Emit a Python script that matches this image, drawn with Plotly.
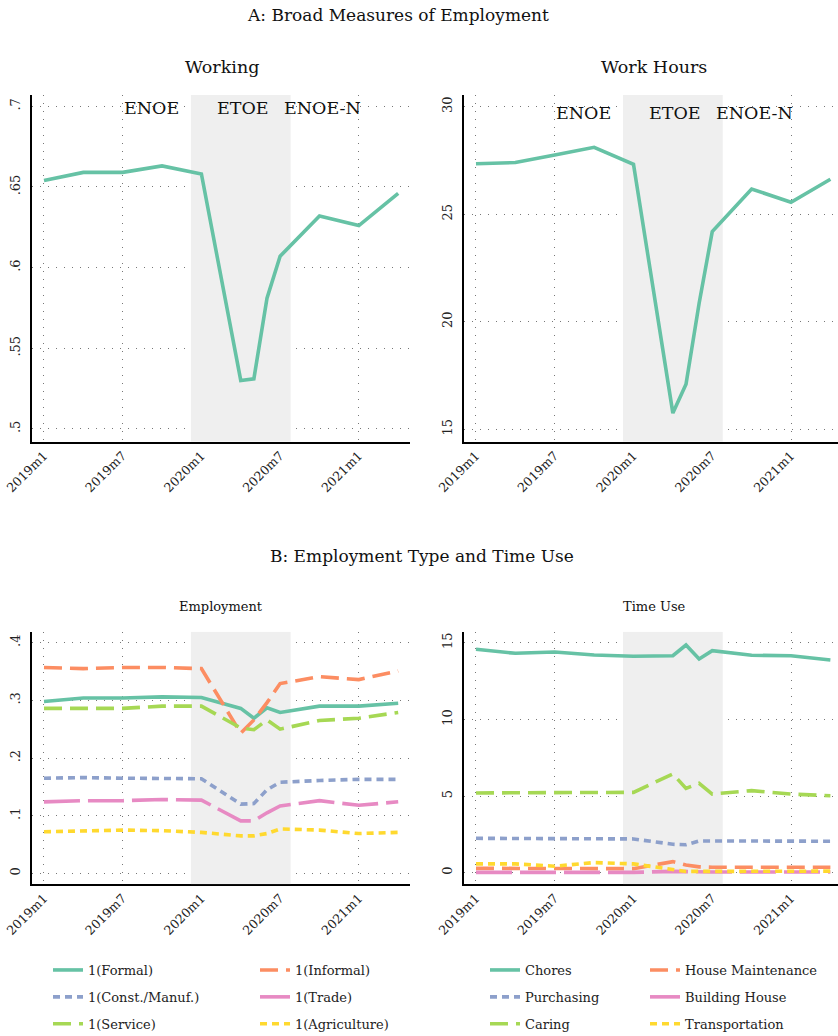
import plotly.graph_objects as go

# ---------------- data ----------------
periods = ["2019m1", "2019m4", "2019m7", "2019m10", "2020m1", "2020m4",
           "2020m5", "2020m6", "2020m7", "2020m10", "2021m1", "2021m4"]
tick_labels = ["2019m1", "2019m7", "2020m1", "2020m7", "2021m1"]
etoe_window = [11.2, 18.8]          # months since 2019m1, shaded ETOE period

working = [0.654, 0.659, 0.659, 0.663, 0.658, 0.530, 0.531, 0.581, 0.607, 0.632, 0.626, 0.646]
work_hours = [27.34, 27.40, 27.75, 28.11, 27.32, 15.75, 17.09, 20.86, 24.19, 26.17, 25.55, 26.62]

emp_names = ["1(Formal)", "1(Informal)", "1(Const./Manuf.)", "1(Trade)", "1(Service)", "1(Agriculture)"]
emp_formal = [0.298, 0.304, 0.304, 0.306, 0.305, 0.286, 0.269, 0.287, 0.279, 0.290, 0.290, 0.295]
emp_informal = [0.357, 0.355, 0.357, 0.357, 0.355, 0.243, 0.266, 0.296, 0.329, 0.341, 0.336, 0.351]
emp_const = [0.165, 0.166, 0.165, 0.165, 0.164, 0.120, 0.121, 0.145, 0.158, 0.161, 0.163, 0.163]
emp_trade = [0.124, 0.126, 0.126, 0.128, 0.127, 0.091, 0.091, 0.105, 0.117, 0.126, 0.118, 0.124]
emp_service = [0.286, 0.286, 0.286, 0.290, 0.290, 0.252, 0.249, 0.266, 0.250, 0.265, 0.269, 0.279]
emp_agri = [0.072, 0.073, 0.075, 0.074, 0.071, 0.065, 0.065, 0.069, 0.077, 0.075, 0.069, 0.071]

time_names = ["Chores", "House Maintenance", "Purchasing", "Building House", "Caring", "Transportation"]
time_chores = [14.57, 14.31, 14.40, 14.20, 14.12, 14.15, 14.85, 13.94, 14.48, 14.18, 14.15, 13.87]
time_maint = [0.28, 0.28, 0.30, 0.28, 0.26, 0.72, 0.50, 0.38, 0.35, 0.35, 0.35, 0.35]
time_purch = [2.24, 2.22, 2.24, 2.22, 2.20, 1.85, 1.82, 2.07, 2.07, 2.09, 2.07, 2.05]
time_build = [0.02, 0.02, 0.02, 0.02, 0.02, 0.08, 0.05, 0.03, 0.04, 0.04, 0.04, 0.04]
time_caring = [5.20, 5.20, 5.20, 5.20, 5.24, 6.44, 5.50, 5.83, 5.13, 5.35, 5.13, 5.02]
time_transp = [0.57, 0.57, 0.42, 0.66, 0.57, 0.17, 0.08, 0.08, 0.08, 0.10, 0.10, 0.10]

working_ticks = [0.5, 0.55, 0.6, 0.65, 0.7]
working_ticktext = [".5", ".55", ".6", ".65", ".7"]
hours_ticks = [15, 20, 25, 30]
emp_ticks = [0, 0.1, 0.2, 0.3, 0.4]
emp_ticktext = ["0", ".1", ".2", ".3", ".4"]
time_ticks = [0, 5, 10, 15]


def month_index(p):
    y, m = p.split("m")
    return (int(y) - 2019) * 12 + int(m) - 1


x = [month_index(p) for p in periods]
tickvals = [month_index(t) for t in tick_labels]

# ---------------- layout helpers ----------------
W, H = 838, 1036


def fx(px):
    return px / W


def fy(py):
    return 1 - py / H


FONT = "DejaVu Serif"
colors = ["#66c2a5", "#fc8d62", "#8da0cb", "#e78ac3", "#a6d854", "#ffd92f"]
dashes = ["solid", "18px,8px", "7px,5px", "36px,8px", "18px,8px", "7px,5px"]
LW = 3.6
legend_ids = ["legend", "legend2", "legend", "legend2", "legend", "legend2"]
legend_ids_r = ["legend3", "legend4", "legend3", "legend4", "legend3", "legend4"]

ranges_x = {"x": [-0.89, 27.9], "x2": [-0.89, 27.58], "x3": [-0.89, 27.9], "x4": [-0.89, 27.58]}
ranges_y = {"y": [0.492, 0.707], "y2": [14.42, 30.54], "y3": [-0.019, 0.419], "y4": [-0.76, 15.72]}

fig = go.Figure()

# shaded ETOE window (drawn first, beneath the series)
for xa, ya in [("x", "y"), ("x2", "y2"), ("x3", "y3"), ("x4", "y4")]:
    lo, hi = ranges_y[ya]
    a, b = etoe_window
    fig.add_trace(go.Scatter(x=[a, b, b, a, a], y=[lo, lo, hi, hi, lo], mode="lines",
                             fill="toself", fillcolor="#efefef", line=dict(width=0),
                             hoverinfo="skip", showlegend=False, xaxis=xa, yaxis=ya))

fig.add_trace(go.Scatter(x=x, y=working, mode="lines", showlegend=False,
                         line=dict(color=colors[0], width=LW), xaxis="x", yaxis="y"))
fig.add_trace(go.Scatter(x=x, y=work_hours, mode="lines", showlegend=False,
                         line=dict(color=colors[0], width=LW), xaxis="x2", yaxis="y2"))

emp_series = [emp_formal, emp_informal, emp_const, emp_trade, emp_service, emp_agri]
for i, (nm, ys) in enumerate(zip(emp_names, emp_series)):
    fig.add_trace(go.Scatter(x=x, y=ys, mode="lines", name=nm, legendgroup=nm,
                             legend=legend_ids[i],
                             line=dict(color=colors[i], width=LW, dash=dashes[i]),
                             xaxis="x3", yaxis="y3"))

time_series = [time_chores, time_maint, time_purch, time_build, time_caring, time_transp]
for i, (nm, ys) in enumerate(zip(time_names, time_series)):
    fig.add_trace(go.Scatter(x=x, y=ys, mode="lines", name=nm, legendgroup=nm,
                             legend=legend_ids_r[i],
                             line=dict(color=colors[i], width=LW, dash=dashes[i]),
                             xaxis="x4", yaxis="y4"))

xl = [fx(32.3), fx(410)]
xr = [fx(464.3), 1.0]
yt = [fy(441.7), fy(95)]
yb = [fy(884.3), fy(631.7)]

xcommon = dict(showline=True, linecolor="black", linewidth=1.5, showgrid=True,
               gridcolor="#777", griddash="1px,7px", gridwidth=1.2, zeroline=False,
               ticks="", tickvals=tickvals, ticktext=tick_labels, tickangle=-45,
               ticklabeloverflow="allow",
               tickfont=dict(family=FONT, size=12.5, color="#222"), layer="below traces",
               automargin=False)
ycommon = dict(showline=True, linecolor="black", linewidth=1.5, showgrid=True,
               gridcolor="#777", griddash="1px,7px", gridwidth=1.2, zeroline=False,
               ticks="", tickangle=-90, ticklabelstandoff=5, ticklabeloverflow="allow",
               tickfont=dict(family=FONT, size=13, color="#222"), layer="below traces",
               automargin=False)

fig.update_layout(
    width=W, height=H, margin=dict(l=0, r=0, t=0, b=0, autoexpand=False),
    paper_bgcolor="white", plot_bgcolor="white",
    font=dict(family=FONT, color="#222"),
    xaxis=dict(domain=xl, range=ranges_x["x"], anchor="y", **xcommon),
    xaxis2=dict(domain=xr, range=ranges_x["x2"], anchor="y2", **xcommon),
    xaxis3=dict(domain=xl, range=ranges_x["x3"], anchor="y3", **xcommon),
    xaxis4=dict(domain=xr, range=ranges_x["x4"], anchor="y4", **xcommon),
    yaxis=dict(domain=yt, range=ranges_y["y"], anchor="x", tickvals=working_ticks,
               ticktext=working_ticktext, **ycommon),
    yaxis2=dict(domain=yt, range=ranges_y["y2"], anchor="x2", tickvals=hours_ticks, **ycommon),
    yaxis3=dict(domain=yb, range=ranges_y["y3"], anchor="x3", tickvals=emp_ticks,
                ticktext=emp_ticktext, **ycommon),
    yaxis4=dict(domain=yb, range=ranges_y["y4"], anchor="x4", tickvals=time_ticks, **ycommon),
)

# titles
titles = [
    ("A: Broad Measures of Employment", 398, 15, 17),
    ("Working", 222, 67, 17.5),
    ("Work Hours", 654, 67, 17.5),
    ("B: Employment Type and Time Use", 422, 556, 17),
    ("Employment", 221, 606, 13),
    ("Time Use", 654, 606, 13),
]
for txt, px, py, fs in titles:
    fig.add_annotation(text=txt, x=fx(px), y=fy(py), xref="paper", yref="paper",
                       showarrow=False, xanchor="center", yanchor="middle",
                       font=dict(family=FONT, size=fs, color="#111"))

# survey labels
survey_labels = ["ENOE", "ETOE", "ENOE-N"]
survey_x = [8.2, 15.15, 21.2]
for lab, sx in zip(survey_labels, survey_x):
    fig.add_annotation(text=lab, x=sx, y=0.699, xref="x", yref="y", showarrow=False,
                       xanchor="center", yanchor="middle", font=dict(family=FONT, size=17.5, color="#111"))
    fig.add_annotation(text=lab, x=sx, y=29.7, xref="x2", yref="y2", showarrow=False,
                       xanchor="center", yanchor="middle", font=dict(family=FONT, size=17.5, color="#111"))

leg = dict(orientation="v", xanchor="left", yanchor="top", bgcolor="rgba(0,0,0,0)",
           font=dict(family=FONT, size=13, color="#222"), tracegroupgap=7, itemwidth=30)
ly = fy(955)
fig.update_layout(
    legend=dict(x=fx(48), y=ly, **leg),
    legend2=dict(x=fx(255), y=ly, **leg),
    legend3=dict(x=fx(485), y=ly, **leg),
    legend4=dict(x=fx(645), y=ly, **leg),
)

# let the 838x1036 figure fill the page exactly (no default body margin), no mode bar
fig.write_html("out.html", config={"displayModeBar": False},
               post_script="document.body.style.margin='0px';")
